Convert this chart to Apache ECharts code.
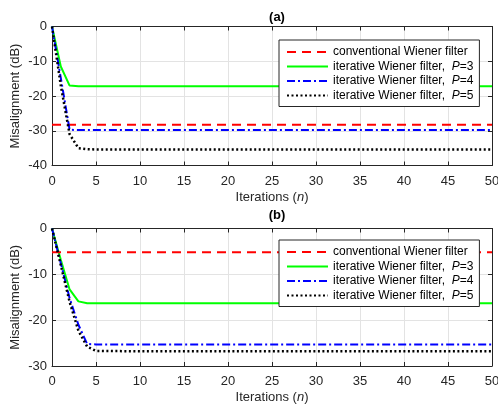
<!DOCTYPE html>
<html><head><meta charset="utf-8">
<script src="https://cdn.jsdelivr.net/npm/echarts@6/dist/echarts.min.js"></script>
<style>html,body{margin:0;padding:0;background:#fff}#c{width:498px;height:412px}</style>
</head><body><div id="c"></div>
<script>
// ---- data ----
const iterations = [0, 1, 2, 3, 4, 5, 10, 20, 30, 40, 50];
const xTicks = [0, 5, 10, 15, 20, 25, 30, 35, 40, 45, 50];
const yTicksA = [0, -10, -20, -30, -40];
const yTicksB = [0, -10, -20, -30];
const seriesNames = ['conventional Wiener filter', 'iterative Wiener filter, P=3', 'iterative Wiener filter, P=4', 'iterative Wiener filter, P=5'];

// (a)
const convA = [-28.3, -28.3, -28.3, -28.3, -28.3, -28.3, -28.3, -28.3, -28.3, -28.3, -28.3];
const p3A = [0, -11.5, -17.0, -17.2, -17.2, -17.2, -17.2, -17.2, -17.2, -17.2, -17.2];
const p4A = [0, -14.8, -29.7, -29.8, -29.8, -29.8, -29.8, -29.8, -29.8, -29.8, -29.8];
const p5A = [0, -17.0, -31.0, -35.0, -35.3, -35.4, -35.4, -35.4, -35.4, -35.4, -35.4];
// (b)
const convB = [-5.2, -5.2, -5.2, -5.2, -5.2, -5.2, -5.2, -5.2, -5.2, -5.2, -5.2];
const p3B = [0, -6.8, -13.3, -15.9, -16.3, -16.3, -16.3, -16.3, -16.3, -16.3, -16.3];
const p4B = [0, -7.6, -15.2, -21.0, -25.2, -25.3, -25.3, -25.3, -25.3, -25.3, -25.3];
const p5B = [0, -8.0, -16.0, -22.3, -25.8, -26.7, -26.8, -26.8, -26.8, -26.8, -26.8];

const styles = [
  {color: '#ff0000', width: 2, type: [9, 6]},
  {color: '#00ff00', width: 2, type: 'solid'},
  {color: '#0000ff', width: 2, type: [8, 3, 2, 3]},
  {color: '#000000', width: 2.5, type: [2, 2.5]}
];

const axisColor = '#262626';
const font = 'Liberation Sans, Arial, Helvetica, sans-serif';

function pairs(vals) { return iterations.map((x, i) => [x, vals[i]]); }

const grids = [
  {left: 52, top: 26.5, width: 440, height: 139, outerBoundsMode: 'none', containLabel: false},
  {left: 52, top: 228.5, width: 440, height: 137.5, outerBoundsMode: 'none', containLabel: false}
];

function xAxes(gi) {
  return [
    {type: 'value', gridIndex: gi, min: 0, max: 50, interval: 5, position: 'bottom',
     name: '{t|Iterations (}{i|n}{t|)}', nameLocation: 'middle', nameGap: 25, nameMoveOverlap: false,
     nameTextStyle: {rich: {t: {fontSize: 13, fontFamily: font, color: axisColor}, i: {fontSize: 13, fontFamily: font, fontStyle: 'italic', color: axisColor}}},
     axisLine: {show: true, onZero: false, lineStyle: {color: axisColor, width: 1}},
     axisTick: {show: true, inside: true, length: 4, lineStyle: {color: axisColor}},
     axisLabel: {color: axisColor, fontSize: 13, fontFamily: font, margin: 9},
     splitLine: {show: true, lineStyle: {color: '#e3e3e3', width: 1}}},
    {type: 'value', gridIndex: gi, min: 0, max: 50, interval: 5, position: 'top',
     axisLine: {show: true, onZero: false, lineStyle: {color: axisColor, width: 1}},
     axisTick: {show: true, inside: true, length: 4, lineStyle: {color: axisColor}},
     axisLabel: {show: false}, splitLine: {show: false}}
  ];
}
function yAxes(gi, min) {
  return [
    {type: 'value', gridIndex: gi, min: min, max: 0, interval: 10, position: 'left',
     name: 'Misalignment (dB)', nameLocation: 'middle', nameGap: 30, nameMoveOverlap: false,
     nameTextStyle: {fontSize: 13, fontFamily: font, color: axisColor},
     axisLine: {show: true, onZero: false, lineStyle: {color: axisColor, width: 1}},
     axisTick: {show: true, inside: true, length: 4, lineStyle: {color: axisColor}},
     axisLabel: {color: axisColor, fontSize: 13, fontFamily: font, margin: 5},
     splitLine: {show: true, lineStyle: {color: '#e3e3e3', width: 1}}},
    {type: 'value', gridIndex: gi, min: min, max: 0, interval: 10, position: 'right',
     axisLine: {show: true, onZero: false, lineStyle: {color: axisColor, width: 1}},
     axisTick: {show: true, inside: true, length: 4, lineStyle: {color: axisColor}},
     axisLabel: {show: false}, splitLine: {show: false}}
  ];
}

function mkSeries(vals, idx, gi) {
  return {type: 'line', name: seriesNames[idx], xAxisIndex: gi * 2, yAxisIndex: gi * 2,
    data: pairs(vals), symbol: 'none', showSymbol: false, z: idx === 0 ? 5 : 3 + idx,
    lineStyle: styles[idx], itemStyle: {color: styles[idx].color}};
}

function legendCfg(top) {
  return {
    orient: 'vertical', left: 279, top: top, z: 50,
    data: seriesNames,
    itemWidth: 41, itemHeight: 10, itemGap: 0.5,
    padding: [5, 6, 4, 7],
    borderColor: axisColor, borderWidth: 1, backgroundColor: '#fff',
    selectedMode: false,
    itemStyle: {opacity: 0},
    formatter: function (name) {
      const m = name.match(/^(.*)P=(\d)$/);
      if (m) return '{n|' + m[1] + ' }{i|P}{n|=' + m[2] + '}';
      return '{n|' + name + '}';
    },
    textStyle: {fontSize: 12, fontFamily: font, color: '#000', lineHeight: 14,
      rich: {n: {fontSize: 12, fontFamily: font, color: '#000', lineHeight: 14},
             i: {fontSize: 12, fontFamily: font, color: '#000', fontStyle: 'italic', lineHeight: 14}}}
  };
}

const chart = echarts.init(document.getElementById('c'), null, {renderer: 'canvas'});
chart.setOption({
  animation: false,
  backgroundColor: '#fff',
  title: [
    {text: '(a)', left: 272, top: 6, textAlign: 'center', textStyle: {fontSize: 13, fontWeight: 'bold', fontFamily: font, color: '#000'}},
    {text: '(b)', left: 272, top: 204, textAlign: 'center', textStyle: {fontSize: 13, fontWeight: 'bold', fontFamily: font, color: '#000'}}
  ],
  grid: grids,
  xAxis: [...xAxes(0), ...xAxes(1)],
  yAxis: [...yAxes(0, -40), ...yAxes(1, -30)],
  legend: [legendCfg(40), legendCfg(240)],
  series: [
    mkSeries(convA, 0, 0), mkSeries(p3A, 1, 0), mkSeries(p4A, 2, 0), mkSeries(p5A, 3, 0),
    mkSeries(convB, 0, 1), mkSeries(p3B, 1, 1), mkSeries(p4B, 2, 1), mkSeries(p5B, 3, 1)
  ]
});
</script></body></html>
